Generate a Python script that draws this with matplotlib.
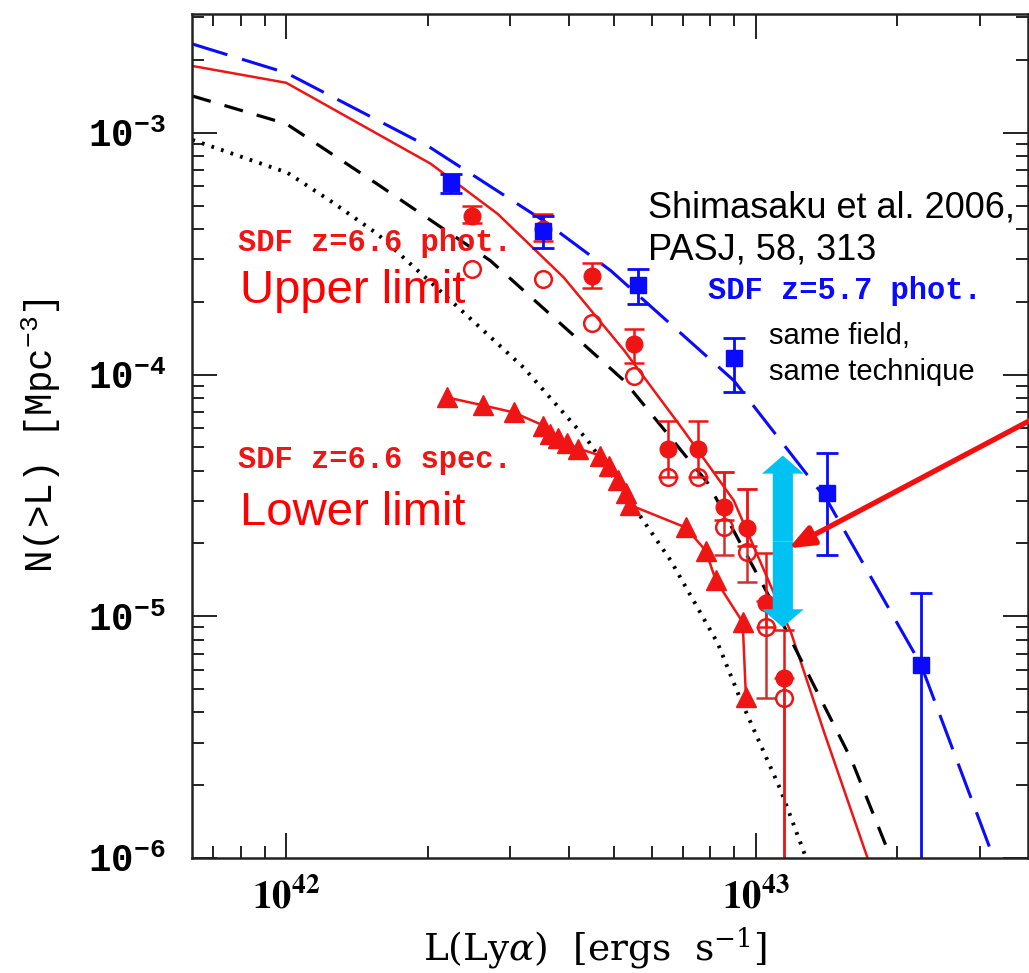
import matplotlib
matplotlib.use('Agg')
import matplotlib.pyplot as plt
import matplotlib.patches as mpatches
from matplotlib.ticker import LogLocator, NullFormatter

plt.rcParams['mathtext.fontset'] = 'custom'
plt.rcParams['mathtext.rm'] = 'Liberation Mono'
plt.rcParams['mathtext.bf'] = 'Liberation Mono:bold'
plt.rcParams['mathtext.it'] = 'Liberation Mono:italic'

# SDF z=5.7 photometric sample (blue squares)
z57_L = [2.24e42, 3.53e42, 5.6e42, 8.98e42, 1.42e43, 2.25e43]
z57_N = [6.21e-4, 3.94e-4, 2.35e-4, 1.175e-4, 3.22e-5, 6.28e-6]
z57_hi = [6.77e-4, 4.54e-4, 2.74e-4, 1.41e-4, 4.72e-5, 1.245e-5]
z57_lo = [5.65e-4, 3.35e-4, 1.96e-4, 8.5e-5, 1.79e-5, 1e-8]

# SDF z=6.6 photometric sample (filled = all candidates, open = corrected)
z66_L = [2.49e42, 3.53e42, 4.49e42, 5.50e42, 6.49e42, 7.52e42, 8.55e42, 9.57e42, 1.054e43, 1.148e43]
z66_N = [4.54e-4, 4.01e-4, 2.56e-4, 1.34e-4, 4.94e-5, 4.94e-5, 2.82e-5, 2.31e-5, 1.13e-5, 5.55e-6]
z66_hi = [4.99e-4, 4.62e-4, 2.90e-4, 1.55e-4, 6.45e-5, 6.45e-5, 3.94e-5, 3.35e-5, 1.82e-5, 8.75e-6]
z66_lo = [4.25e-4, 3.58e-4, 2.29e-4, 1.12e-4, 3.75e-5, 3.75e-5, 2.49e-5, 1.96e-5, 9.0e-6, 1e-8]
z66o_N = [2.74e-4, 2.49e-4, 1.64e-4, 9.9e-5, 3.75e-5, 3.75e-5, 2.33e-5, 1.84e-5, 9.0e-6, 4.58e-6]
z66o_hi = [3.94e-5, 3.35e-5, 1.16e-5, 5.55e-6]
z66o_lo = [1.79e-5, 1.38e-5, 4.58e-6, 1e-8]

# SDF z=6.6 spectroscopic sample (triangles)
spec_L = [2.20e42, 2.63e42, 3.05e42, 3.53e42, 3.64e42, 3.79e42, 3.96e42, 4.19e42, 4.67e42,
          4.86e42, 5.08e42, 5.28e42, 5.41e42, 7.09e42, 7.82e42, 8.22e42, 9.38e42, 9.53e42]
spec_N = [8.04e-5, 7.45e-5, 6.97e-5, 6.15e-5, 5.70e-5, 5.44e-5, 5.19e-5, 4.94e-5, 4.62e-5,
          4.17e-5, 3.65e-5, 3.25e-5, 2.88e-5, 2.33e-5, 1.87e-5, 1.41e-5, 9.44e-6, 4.62e-6]

# model curves
m57_L = [6.31e41, 1.0e42, 2.03e42, 3.53e42, 4.91e42, 8.98e42, 1.42e43, 2.25e43, 3.21e43, 3.58e43]
m57_N = [2.33e-3, 1.77e-3, 8.67e-4, 4.33e-4, 2.69e-4, 9.44e-5, 3.01e-5, 6.28e-6, 1.0e-6, 5.5e-7]
m66_L = [6.31e41, 1.0e42, 2.03e42, 2.82e42, 3.90e42, 5.24e42, 7.02e42, 8.98e42, 1.19e43, 1.40e43, 1.73e43, 1.85e43]
m66_N = [1.89e-3, 1.61e-3, 7.45e-4, 4.62e-4, 2.52e-4, 1.26e-4, 5.87e-5, 3.01e-5, 8.51e-6, 3.29e-6, 1.0e-6, 6.7e-7]
mdash_L = [6.31e41, 1.0e42, 1.56e42, 2.72e42, 5.24e42, 7.91e42, 1.06e43, 1.60e43, 1.94e43, 2.09e43]
mdash_N = [1.42e-3, 1.09e-3, 6.15e-4, 2.96e-4, 9.44e-5, 3.55e-5, 1.24e-5, 2.54e-6, 1.0e-6, 6.7e-7]
mdot_L = [6.31e41, 1.005e42, 1.24e42, 1.56e42, 2.16e42, 3.20e42, 4.39e42, 5.08e42, 6.59e42, 8.30e42, 9.29e42, 1.13e43, 1.28e43]
mdot_N = [9.35e-4, 6.84e-4, 5.24e-4, 3.83e-4, 2.16e-4, 1.07e-4, 5.33e-5, 3.55e-5, 1.70e-5, 7.73e-6, 4.50e-6, 1.91e-6, 1.0e-6]

RED = '#f01515'
BLUE = '#0a0aff'

W, H = 1029, 973
fig = plt.figure(figsize=(W / 100, H / 100), dpi=100)
ax = fig.add_axes([192 / W, 115 / H, 836 / W, 844 / H])

def px(x, y):
    return x / W, 1 - y / H

# model lines
ax.plot(m57_L, m57_N, color=BLUE, lw=2.2, dashes=(12, 5))
ax.plot(m66_L, m66_N, color=RED, lw=1.8)
ax.plot(mdash_L, mdash_N, color='black', lw=2.3, dashes=(6, 4.5))
ax.plot(mdot_L, mdot_N, color='black', lw=2.8, dashes=(0.7, 1.9))

# spectroscopic
ax.plot(spec_L, spec_N, color=RED, lw=1.8, marker='^', ms=15, mec=RED, mfc=RED)

# photometric z=6.6
n_plain = len(z66o_N) - len(z66o_hi)
ax.plot(z66_L[:n_plain], z66o_N[:n_plain], 'o', ms=12, mfc='none', mec=RED, mew=1.8)
oN = z66o_N[n_plain:]
ax.errorbar(z66_L[n_plain:], oN,
            yerr=[[n - l for n, l in zip(oN, z66o_lo)], [h - n for n, h in zip(oN, z66o_hi)]],
            fmt='o', ms=12, mfc='none', mec=RED, mew=1.8, ecolor='#d03030', elinewidth=1.8,
            capsize=7, capthick=1.8)
ax.errorbar(z66_L, z66_N,
            yerr=[[n - l for n, l in zip(z66_N, z66_lo)], [h - n for n, h in zip(z66_N, z66_hi)]],
            fmt='o', ms=12, color=RED, ecolor=RED, elinewidth=1.8, capsize=7, capthick=1.8)

# photometric z=5.7
ax.errorbar(z57_L, z57_N,
            yerr=[[n - l for n, l in zip(z57_N, z57_lo)], [h - n for n, h in zip(z57_N, z57_hi)]],
            fmt='s', ms=11.5, color=BLUE, ecolor=BLUE, elinewidth=2, capsize=8, capthick=2)

ax.set_xscale('log')
ax.set_yscale('log')
ax.set_xlim(6.3e41, 3.8e43)
ax.set_ylim(1e-6, 3.1e-3)

ax.set_xticks([1e42, 1e43], [r'$\mathbf{10^{42}}$', r'$\mathbf{10^{43}}$'],
              fontsize=28, math_fontfamily='stix')
ax.set_yticks([1e-6, 1e-5, 1e-4, 1e-3],
              [r'$\mathbf{10^{-6}}$', r'$\mathbf{10^{-5}}$', r'$\mathbf{10^{-4}}$', r'$\mathbf{10^{-3}}$'],
              fontsize=27)
ax.xaxis.set_minor_locator(LogLocator(subs=range(2, 10)))
ax.yaxis.set_minor_locator(LogLocator(subs=range(2, 10)))
ax.xaxis.set_minor_formatter(NullFormatter())
ax.yaxis.set_minor_formatter(NullFormatter())
ax.tick_params(which='both', direction='in', top=True, right=True, width=1.4, color='#222222')
ax.tick_params(which='major', length=18)
ax.tick_params(which='minor', length=8.5)
ax.tick_params(axis='y', which='major', pad=19)
ax.tick_params(axis='x', which='major', pad=14)
for sp in ax.spines.values():
    sp.set_linewidth(1.8)
    sp.set_color('#222222')

ax.set_xlabel(r'L(Ly$\alpha$)  [ergs  s$^{-1}$]', fontsize=27, family='DejaVu Serif',
              math_fontfamily='dejavuserif', va='center')
ax.xaxis.set_label_coords(0.482, -0.1066)
ax.set_ylabel(r'N(>L) [Mpc$^{-3}$]', fontsize=27, family='Liberation Mono', va='center')
ax.yaxis.set_label_coords(-0.1806, 0.5)

# labels
fig.text(*px(238, 243), 'SDF z=6.6 phot.', color=RED, fontsize=22, family='Liberation Mono',
         weight='bold', va='center')
fig.text(*px(238, 460), 'SDF z=6.6 spec.', color=RED, fontsize=22, family='Liberation Mono',
         weight='bold', va='center')
fig.text(*px(708, 291), 'SDF z=5.7 phot.', color=BLUE, fontsize=22, family='Liberation Mono',
         weight='bold', va='center')
fig.text(*px(240, 303), 'Upper limit', color='red', fontsize=34, family='Liberation Sans', va='baseline')
fig.text(*px(240, 525), 'Lower limit', color='red', fontsize=34, family='Liberation Sans', va='baseline')
fig.text(*px(648, 217), 'Shimasaku et al. 2006,', color='black', fontsize=26, family='Liberation Sans', va='baseline')
fig.text(*px(648, 260), 'PASJ, 58, 313', color='black', fontsize=26, family='Liberation Sans', va='baseline')
fig.text(*px(769, 344), 'same field,', color='black', fontsize=21, family='Liberation Sans', va='baseline')
fig.text(*px(769, 380), 'same technique', color='black', fontsize=21, family='Liberation Sans', va='baseline')

# cyan double arrow
arr_x = 1.142e43
arr_top, arr_bot, arr_mid = 4.62e-5, 9.0e-6, 2.04e-5
style = 'simple,head_length=13,head_width=30,tail_width=14.5'
for end in (arr_top, arr_bot):
    ax.add_patch(mpatches.FancyArrowPatch((arr_x, arr_mid), (arr_x, end), arrowstyle=style,
                                          mutation_scale=1, color='#00c2f2', lw=0,
                                          shrinkA=0, shrinkB=0, zorder=5))

# red pointer arrow
ax.annotate('', xy=(1.175e43, 1.91e-5), xytext=(4.06e43, 6.84e-5), annotation_clip=False,
            arrowprops=dict(arrowstyle='-|>,head_length=0.75,head_width=0.3', mutation_scale=20,
                            color='#f01010', lw=3.8, shrinkA=0, shrinkB=0), zorder=6)

fig.savefig('out.png', dpi=100)
